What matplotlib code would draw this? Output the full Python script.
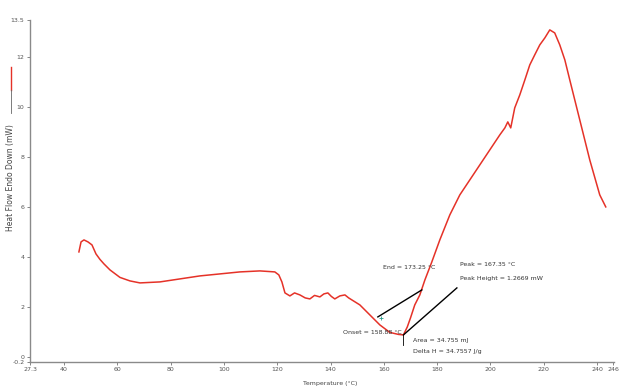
import matplotlib.pyplot as plt
from matplotlib.lines import Line2D

# DSC heat-flow curve
temperature = [45.6, 46.4, 47.5, 49.0, 50.5, 52.0, 53.5, 55.0, 57.25, 61.0, 64.75, 68.5,
               76.0, 83.5, 91.0, 98.5, 106.0, 113.5, 119.1, 120.6, 121.75, 122.9, 124.75,
               126.5, 128.5, 130.5, 132.25, 134.0, 136.0, 137.5, 139.0, 140.3, 141.6,
               143.5, 145.4, 146.8, 148.0, 151.0, 154.75, 158.5, 162.25, 165.5, 167.35,
               168.8, 170.0, 171.6, 173.5, 175.4, 178.0, 181.0, 184.75, 188.5, 192.25,
               196.0, 199.75, 203.5, 205.4, 206.5, 207.6, 209.1, 211.0, 212.9, 214.75,
               216.6, 218.5, 220.4, 222.25, 224.1, 226.0, 227.9, 229.75, 233.5, 237.25,
               241.0, 243.25]
heat_flow = [4.2, 4.6, 4.68, 4.6, 4.48, 4.12, 3.9, 3.72, 3.48, 3.18, 3.04, 2.96,
             3.0, 3.12, 3.24, 3.32, 3.4, 3.44, 3.4, 3.28, 3.0, 2.56, 2.44,
             2.56, 2.48, 2.36, 2.32, 2.46, 2.4, 2.52, 2.56, 2.42, 2.32,
             2.44, 2.48, 2.36, 2.28, 2.08, 1.68, 1.28, 0.98, 0.9, 0.88,
             1.2, 1.56, 2.08, 2.48, 3.08, 3.8, 4.68, 5.68, 6.48, 7.08,
             7.68, 8.28, 8.88, 9.16, 9.4, 9.16, 9.96, 10.48, 11.08, 11.68,
             12.08, 12.48, 12.76, 13.08, 12.96, 12.48, 11.88, 11.08, 9.48, 7.88,
             6.48, 6.0]

x_ticks = [27.3, 40, 60, 80, 100, 120, 140, 160, 180, 200, 220, 240, 246]
x_labels = ['27.3', '40', '60', '80', '100', '120', '140', '160', '180', '200', '220', '240', '246']
y_ticks = [-0.2, 0, 2, 4, 6, 8, 10, 12, 13.48]
y_labels = ['-0.2', '0', '2', '4', '6', '8', '10', '12', '13.5']

onset = (158.88, 1.56)
peak = (167.35, 0.88)

fig = plt.figure(figsize=(6.25, 3.9), dpi=100)
ax = fig.add_axes([0.048, 0.072, 0.934, 0.877])

ax.plot(temperature, heat_flow, color='#e53228', lw=1.1)

# analysis annotations
ax.plot([157.75, 174.25], [1.6, 2.68], color='black', lw=1.0)
ax.plot([peak[0], 187.4], [peak[1], 2.76], color='black', lw=1.0)
ax.plot([peak[0], peak[0]], [peak[1], 0.48], color='black', lw=0.6)
ax.plot(*onset, marker='+', color='#2a9a8a', ms=3, mew=0.6)

fs = 4.5
tc = '#333333'
ax.text(144.6, 0.96, 'Onset = 158.88 °C', fontsize=fs, color=tc, va='center')
ax.text(159.6, 3.56, 'End = 173.25 °C', fontsize=fs, color=tc, va='center')
ax.text(188.5, 3.68, 'Peak = 167.35 °C', fontsize=fs, color=tc, va='center')
ax.text(188.5, 3.12, 'Peak Height = 1.2669 mW', fontsize=fs, color=tc, va='center')
ax.text(170.9, 0.64, 'Area = 34.755 mJ', fontsize=fs, color=tc, va='center')
ax.text(170.9, 0.2, 'Delta H = 34.7557 J/g', fontsize=fs, color=tc, va='center')

ax.set_xlim(27.25, 246.25)
ax.set_ylim(-0.2, 13.48)
ax.set_xticks(x_ticks)
ax.set_xticklabels(x_labels)
ax.set_yticks(y_ticks)
ax.set_yticklabels(y_labels)
ax.tick_params(labelsize=fs, colors='#555555', length=2, width=0.5, pad=2)

for side in ['top', 'right']:
    ax.spines[side].set_visible(False)
for side in ['left', 'bottom']:
    ax.spines[side].set_color('#8a8a8a')
    ax.spines[side].set_linewidth(1.0)

ax.set_xlabel('Temperature (°C)', fontsize=fs, color='#444444', labelpad=1)
ax.xaxis.set_label_coords(0.515, -0.055)

# y-axis title with the curve's colour key
fig.text(11 / 625, 1 - 178 / 390, 'Heat Flow Endo Down (mW)', rotation=90,
         fontsize=5.5, color='#444444', ha='center', va='center')
fig.add_artist(Line2D([11 / 625, 11 / 625], [1 - 67 / 390, 1 - 90 / 390],
                      color='#e53228', lw=1.0, transform=fig.transFigure))
fig.add_artist(Line2D([11 / 625, 11 / 625], [1 - 90 / 390, 1 - 113 / 390],
                      color='#666666', lw=0.6, transform=fig.transFigure))

fig.savefig('out.png', dpi=100)
